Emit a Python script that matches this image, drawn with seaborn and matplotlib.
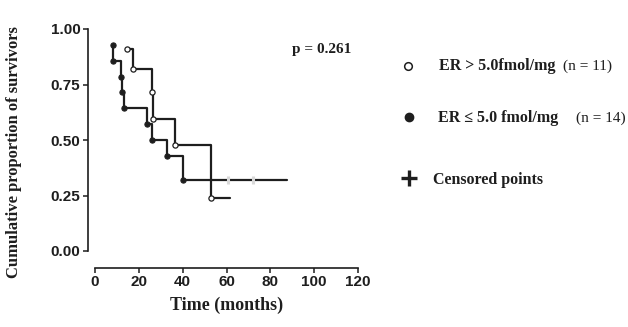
import matplotlib
matplotlib.use("Agg")
import matplotlib.pyplot as plt
from matplotlib.lines import Line2D
import seaborn as sns
import pandas as pd

# Kaplan-Meier steps
high_time = [14.5, 17.5, 25.8, 26.5, 36.5, 53.0, 61.5]
high_surv = [0.909, 0.818, 0.716, 0.596, 0.477, 0.239, 0.239]
high_event = [1, 1, 1, 1, 1, 1, 0]

low_time = [8.2, 8.2, 12.0, 12.4, 13.3, 23.5, 26.0, 33.0, 40.3, 87.5]
low_surv = [0.929, 0.857, 0.786, 0.714, 0.643, 0.571, 0.500, 0.429, 0.321, 0.321]
low_event = [1, 1, 1, 1, 1, 1, 1, 1, 1, 0]

cens_time = [60.5, 72.0]
cens_surv = [0.321, 0.321]

x_ticks = [0, 20, 40, 60, 80, 100, 120]
y_ticks = [0.00, 0.25, 0.50, 0.75, 1.00]

df_high = pd.DataFrame({"t": high_time, "s": high_surv, "e": high_event})
df_low = pd.DataFrame({"t": low_time, "s": low_surv, "e": low_event})
df_cens = pd.DataFrame({"t": cens_time, "s": cens_surv})

sns.set_style("ticks")
ink = "#1e1e1e"

fig = plt.figure(figsize=(6.28, 3.27), dpi=100)
ax = fig.add_axes([95 / 628, 1 - 251 / 327, 263 / 628, 222 / 327])

sns.lineplot(ax=ax, data=df_low, x="t", y="s", drawstyle="steps-post",
             estimator=None, sort=False, color=ink, linewidth=1.6)
sns.lineplot(ax=ax, data=df_high, x="t", y="s", drawstyle="steps-post",
             estimator=None, sort=False, color=ink, linewidth=1.6)
sns.scatterplot(ax=ax, data=df_low[df_low.e == 1], x="t", y="s", color=ink,
                s=14, edgecolor=ink, linewidth=0.8, zorder=5)
sns.scatterplot(ax=ax, data=df_high[df_high.e == 1], x="t", y="s", color="white",
                s=14, edgecolor=ink, linewidth=0.9, zorder=5)
# censored marks show as faint breaks on the line
sns.scatterplot(ax=ax, data=df_cens, x="t", y="s", marker="|", color="#d8d8d8",
                s=40, linewidth=2.2, zorder=6)

ax.set_xlim(0, 120)
ax.set_ylim(0, 1)
ax.set_xticks(x_ticks)
ax.set_yticks(y_ticks)
ax.set_yticklabels([f"{v:.2f}" for v in y_ticks])
sns.despine(ax=ax)
ax.spines["left"].set_position(("outward", 5))
ax.spines["bottom"].set_position(("outward", 12))
for sp in ("left", "bottom"):
    ax.spines[sp].set_linewidth(1.2)
    ax.spines[sp].set_color(ink)
ax.tick_params(length=3.5, width=1.1, color=ink, pad=2)
for lab in ax.get_xticklabels() + ax.get_yticklabels():
    lab.set_family("Liberation Sans")
    lab.set_fontweight("bold")
    lab.set_fontsize(11)
    lab.set_color(ink)
ax.set_xlabel("")
ax.set_ylabel("")

serif = "Liberation Serif"
fig.text(227 / 628, 1 - 305 / 327, "Time (months)", ha="center", va="center",
         family=serif, fontweight="bold", fontsize=13, color=ink)
fig.text(14 / 628, 1 - 152 / 327, "Cumulative proportion of survivors", ha="center",
         va="center", rotation=90, family=serif, fontweight="bold", fontsize=12, color=ink)
fig.text(292 / 628, 1 - 49 / 327, "p = 0.261", ha="left", va="center",
         family=serif, fontweight="bold", fontsize=11, color=ink)

# legend
fig.add_artist(Line2D([408 / 628], [1 - 66 / 327], marker="o", markersize=5.5,
                      markerfacecolor="white", markeredgecolor=ink, markeredgewidth=1.1,
                      transform=fig.transFigure))
fig.text(439 / 628, 1 - 66 / 327, "ER > 5.0fmol/mg", ha="left", va="center",
         family=serif, fontweight="bold", fontsize=11.5, color=ink)
fig.text(563 / 628, 1 - 66 / 327, "(n = 11)", ha="left", va="center",
         family=serif, fontsize=11, color=ink)

fig.add_artist(Line2D([409 / 628], [1 - 117 / 327], marker="o", markersize=6,
                      markerfacecolor=ink, markeredgecolor=ink,
                      transform=fig.transFigure))
fig.text(438 / 628, 1 - 118 / 327, "ER ≤ 5.0 fmol/mg", ha="left", va="center",
         family=serif, fontweight="bold", fontsize=11.5, color=ink)
fig.text(626 / 628, 1 - 118 / 327, "(n = 14)", ha="right", va="center",
         family=serif, fontsize=11, color=ink)

fig.add_artist(Line2D([409 / 628], [1 - 178 / 327], marker="+", markersize=12,
                      markeredgewidth=2.4, color=ink, transform=fig.transFigure))
fig.text(433 / 628, 1 - 180 / 327, "Censored points", ha="left", va="center",
         family=serif, fontweight="bold", fontsize=11.5, color=ink)

fig.savefig("out.png", dpi=100)
